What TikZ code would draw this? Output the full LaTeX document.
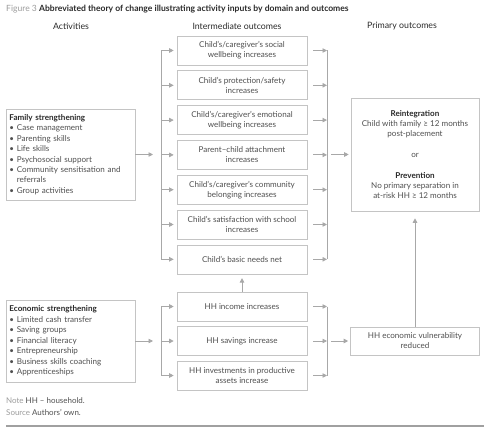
\documentclass[tikz,border=0pt]{standalone}
\usepackage{fontspec}
\setmainfont{Lato}
\usepackage{xcolor}
\definecolor{cLine}{HTML}{A8A8A8}
\definecolor{cBox}{HTML}{C4C4C4}
\definecolor{cText}{HTML}{505050}
\definecolor{cHead}{HTML}{2A2A2A}
\definecolor{cNote}{HTML}{9C9C9C}
\definecolor{cRule}{HTML}{A0A0A0}
\usetikzlibrary{positioning, arrows.meta}

\begin{document}
\begin{tikzpicture}[x=1bp, y=-1bp,
    box/.style={draw=cBox, line width=0.6bp, fill=white, align=center, text=cText,
                minimum width=130bp, minimum height=29bp, inner sep=2bp,
                font=\fontsize{8.1}{10}\selectfont},
    actbox/.style={draw=cBox, line width=0.6bp, fill=white, align=left, text=cText,
                   text width=122bp, inner sep=3.5bp,
                   font=\fontsize{8.1}{10.5}\selectfont},
    head/.style={text=cHead, inner sep=1bp, font=\fontsize{8.8}{10}\selectfont},
    arr/.style={-{Triangle[length=4.5bp, width=4.5bp]}, draw=cLine, fill=cLine, line width=0.8bp},
    bar/.style={draw=cLine, line width=0.8bp}
]
\useasboundingbox (0,0) rectangle (490,435);

% title and column heads
\node[anchor=west, inner sep=2bp, text=cHead, font=\fontsize{8.6}{10}\selectfont] (title) at (4,9)
    {\textcolor{cNote}{Figure 3} \textbf{Abbreviated theory of change illustrating activity inputs by domain and outcomes}};
\node[head] (hact) at (71,26) {Activities};
\node[head] (hint) at (237,26) {Intermediate outcomes};
\node[head] (hpri) at (402,26) {Primary outcomes};

% activities
\node[actbox, minimum height=91bp] (family) at (70.5,154.5)
    {\textcolor{cHead}{\textbf{Family strengthening}}\\
     \textbullet\ Case management\\
     \textbullet\ Parenting skills\\
     \textbullet\ Life skills\\
     \textbullet\ Psychosocial support\\
     \textbullet\ Community sensitisation and\\
     \phantom{\textbullet\ }referrals\\
     \textbullet\ Group activities};
\node[actbox, minimum height=82bp] (econ) at (70.5,341)
    {\textcolor{cHead}{\textbf{Economic strengthening}}\\
     \textbullet\ Limited cash transfer\\
     \textbullet\ Saving groups\\
     \textbullet\ Financial literacy\\
     \textbullet\ Entrepreneurship\\
     \textbullet\ Business skills coaching\\
     \textbullet\ Apprenticeships};

% intermediate outcomes
\node[box] (social) at (242,50.5) {Child's/caregiver's social\\wellbeing increases};
\node[box] (safety) at (242,85.3) {Child's protection/safety\\increases};
\node[box] (emotion) at (242,120.1) {Child's/caregiver's emotional\\wellbeing increases};
\node[box] (attach) at (242,154.9) {Parent--child attachment\\increases};
\node[box] (belong) at (242,189.7) {Child's/caregiver's community\\belonging increases};
\node[box] (school) at (242,224.5) {Child's satisfaction with school\\increases};
\node[box] (needs) at (242,259.3) {Child's basic needs net};
\node[box] (income) at (242,306.5) {HH income increases};
\node[box] (savings) at (242,341) {HH savings increase};
\node[box] (invest) at (242,375.5) {HH investments in productive\\assets increase};

% primary outcomes
\node[box, minimum width=128bp, minimum height=113bp] (primary) at (415,154.5)
    {\textcolor{cHead}{\textbf{Reintegration}}\\
     Child with family ≥ 12 months\\
     post-placement\\[11bp]
     or\\[11bp]
     \textcolor{cHead}{\textbf{Prevention}}\\
     No primary separation in\\
     at-risk HH ≥ 12 months};
\node[box, minimum width=129bp, minimum height=28bp] (vuln) at (415,341) {HH economic vulnerability\\reduced};

% bracket lines
\coordinate (lbar) at (161,0);
\coordinate (rbar) at (327,0);

% family strengthening
\draw[arr, shorten >=8bp] (family.east) -- (family.east -| lbar);
\draw[bar] (social.west -| lbar) -- (needs.west -| lbar);
\draw[arr, shorten >=3bp] (social.west -| lbar) -- (social.west);
\draw[arr, shorten >=3bp] (safety.west -| lbar) -- (safety.west);
\draw[arr, shorten >=3bp] (emotion.west -| lbar) -- (emotion.west);
\draw[arr, shorten >=3bp] (attach.west -| lbar) -- (attach.west);
\draw[arr, shorten >=3bp] (belong.west -| lbar) -- (belong.west);
\draw[arr, shorten >=3bp] (school.west -| lbar) -- (school.west);
\draw[arr, shorten >=3bp] (needs.west -| lbar) -- (needs.west);
\draw[arr, shorten <=6bp] (social.east) -- (social.east -| rbar);
\draw[arr, shorten <=6bp] (safety.east) -- (safety.east -| rbar);
\draw[arr, shorten <=6bp] (emotion.east) -- (emotion.east -| rbar);
\draw[arr, shorten <=6bp] (attach.east) -- (attach.east -| rbar);
\draw[arr, shorten <=6bp] (belong.east) -- (belong.east -| rbar);
\draw[arr, shorten <=6bp] (school.east) -- (school.east -| rbar);
\draw[arr, shorten <=6bp] (needs.east) -- (needs.east -| rbar);
\draw[bar] (social.east -| rbar) -- (needs.east -| rbar);
\draw[arr, shorten <=4bp, shorten >=2bp] (rbar |- primary.west) -- (primary.west);

% economic strengthening
\draw[arr, shorten >=8bp] (econ.east) -- (econ.east -| lbar);
\draw[bar] (income.west -| lbar) -- (invest.west -| lbar);
\draw[arr, shorten >=3bp] (income.west -| lbar) -- (income.west);
\draw[arr, shorten >=3bp] (savings.west -| lbar) -- (savings.west);
\draw[arr, shorten >=3bp] (invest.west -| lbar) -- (invest.west);
\draw[arr, shorten <=6bp] (income.east) -- (income.east -| rbar);
\draw[arr, shorten <=6bp] (savings.east) -- (savings.east -| rbar);
\draw[arr, shorten <=6bp] (invest.east) -- (invest.east -| rbar);
\draw[bar] (income.east -| rbar) -- (invest.east -| rbar);
\draw[arr, shorten <=4bp, shorten >=2bp] (rbar |- vuln.west) -- (vuln.west);
\draw[arr, shorten >=4bp] (income.north) -- (needs.south);
\draw[arr, shorten >=7bp] (vuln.north) -- (primary.south);

% notes
\node[anchor=west, inner sep=2bp, text=cText, font=\fontsize{8}{9}\selectfont] (note) at (4,401)
    {\textcolor{cNote}{Note} HH -- household.};
\node[anchor=west, inner sep=2bp, text=cText, font=\fontsize{8}{9}\selectfont] (source) at (4,412)
    {\textcolor{cNote}{Source} Authors' own.};
\draw[draw=cRule, line width=2bp] (6,426) -- (484,426);
\end{tikzpicture}
\end{document}
